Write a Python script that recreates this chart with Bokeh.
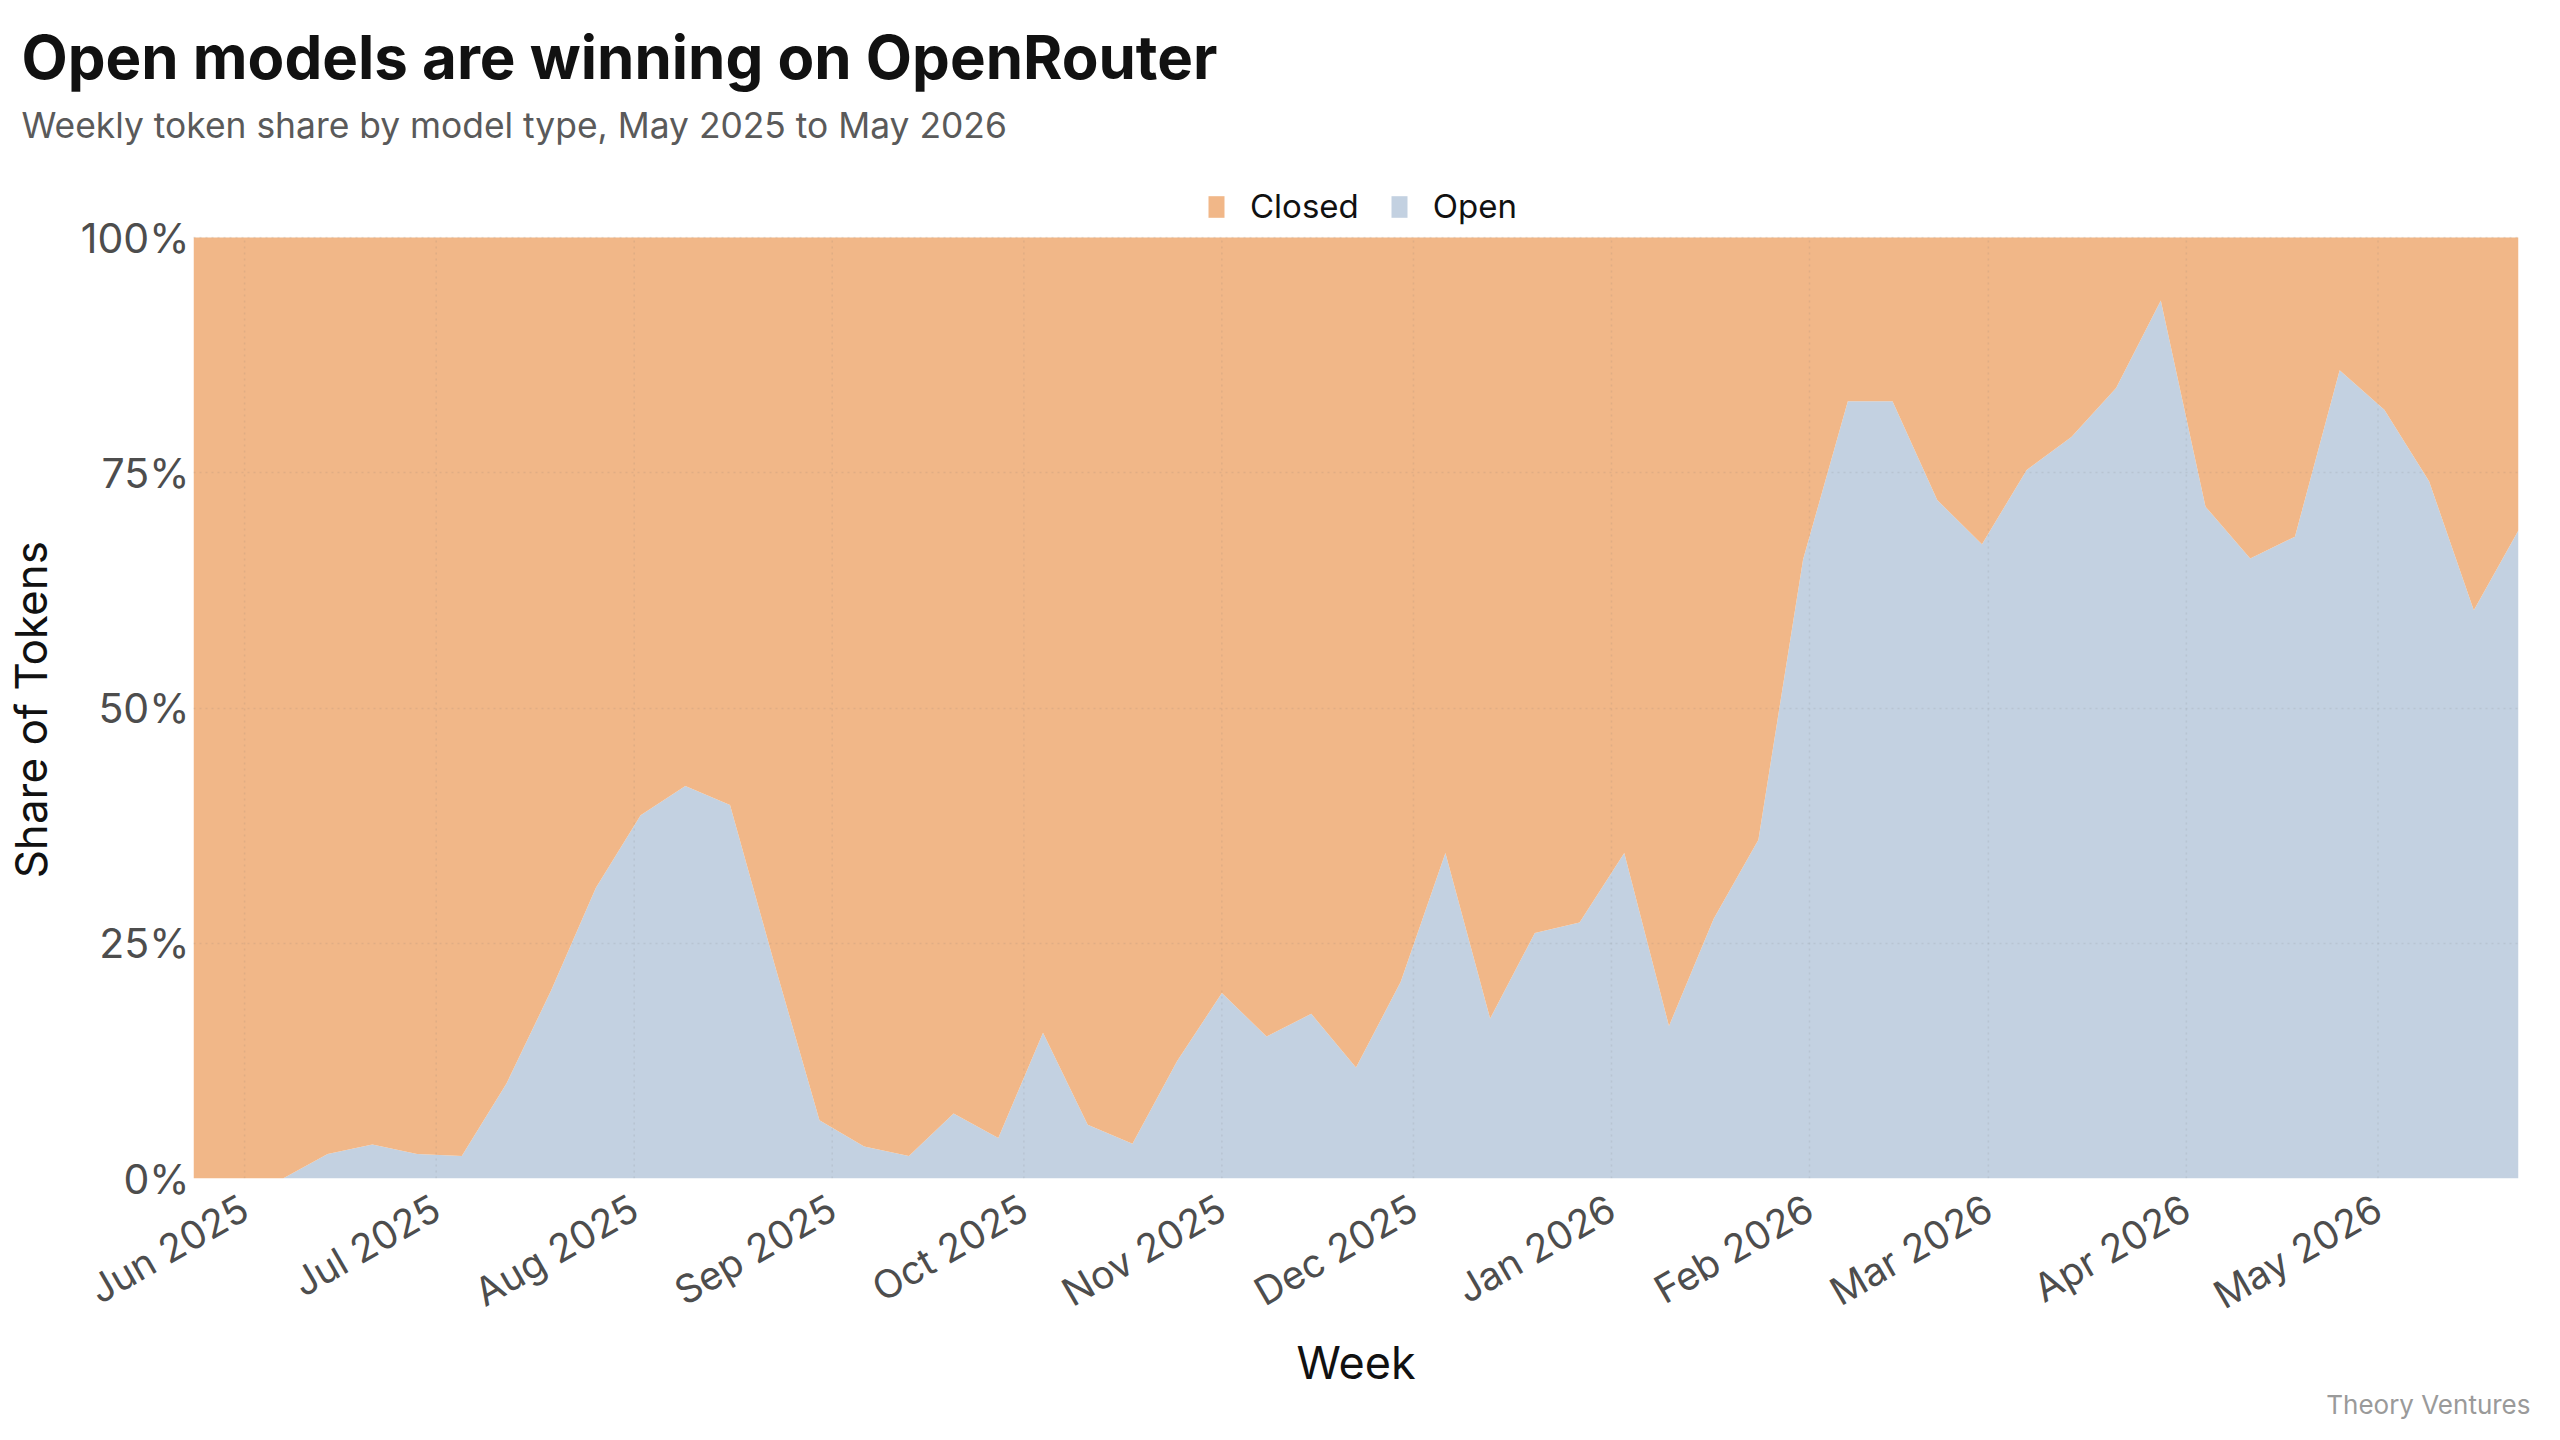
import math
import pandas as pd
from bokeh.plotting import figure
from bokeh.models import (ColumnDataSource, Range1d, FixedTicker, DatetimeTickFormatter,
                          PrintfTickFormatter, Legend, LegendItem, Title)
from bokeh.embed import file_html
from bokeh.resources import INLINE

# ---------------- data ----------------
week_start = "2025-05-24"
open_share = [0, 0, 0, 2.6, 3.6, 2.6, 2.4, 10.1, 20.0, 30.9, 38.6, 41.7, 39.7, 22.7,
              6.2, 3.4, 2.4, 6.9, 4.3, 15.5, 5.7, 3.7, 12.5, 19.7, 15.1, 17.5, 11.8,
              20.9, 34.6, 17.0, 26.1, 27.2, 34.6, 16.2, 27.6, 36.0, 65.8, 82.6, 82.6,
              72.1, 67.4, 75.3, 78.8, 84.0, 93.3, 71.4, 65.9, 68.2, 85.9, 81.7, 74.1,
              60.4, 68.9]
closed_share = [round(100 - v, 1) for v in open_share]
weeks = pd.date_range(week_start, periods=len(open_share), freq="7D")

month_ticks = ["2025-06-01", "2025-07-01", "2025-08-01", "2025-09-01", "2025-10-01",
               "2025-11-01", "2025-12-01", "2026-01-01", "2026-02-01", "2026-03-01",
               "2026-04-01", "2026-05-01"]
y_ticks = [0, 25, 50, 75, 100]

title_text = "Open models are winning on OpenRouter"
subtitle_text = "Weekly token share by model type, May 2025 to May 2026"
credit_text = "Theory Ventures"
x_label = "Week"
y_label = "Share of Tokens"

ORANGE = "#F1B788"
BLUE = "#C3D1E1"
FONT = "Inter"

src = ColumnDataSource(dict(week=weeks, open=open_share, closed=closed_share))
tick_dates = pd.to_datetime(month_ticks)
grid_src = ColumnDataSource(dict(t=tick_dates, lo=[0] * len(tick_dates),
                                 hi=[100] * len(tick_dates)))

FW = 2325
PLOT_H = 941          # height of the 0..100 band
HEAD = 54             # extra room above 100% for the legend
FH = PLOT_H + HEAD
y_top = 100 + HEAD * 100 / PLOT_H

p = figure(frame_width=FW, frame_height=FH, x_axis_type="datetime", output_backend="svg",
           toolbar_location=None, title=None,
           x_range=Range1d(weeks[0], weeks[-1]), y_range=Range1d(0, y_top),
           min_border_left=191, min_border_right=28, min_border_top=0,
           min_border_bottom=0)
p.outline_line_color = None
p.background_fill_color = "white"
p.border_fill_color = "white"
p.xgrid.visible = False

rs = p.varea_stack(["open", "closed"], x="week", source=src, color=[BLUE, ORANGE])
r_open, r_closed = rs

# vertical month grid lines, only across the 0-100% band
p.segment(x0="t", y0="lo", x1="t", y1="hi", source=grid_src, line_color="#6f6f6f",
          line_alpha=0.12, line_dash="dotted", line_width=1.5)

# axes
tick_ms = [pd.Timestamp(t).value // 10**6 for t in month_ticks]
p.xaxis.ticker = FixedTicker(ticks=tick_ms)
fmt = "%b %Y"
p.xaxis.formatter = DatetimeTickFormatter(days=fmt, months=fmt, years=fmt, hours=fmt)
p.xaxis.major_label_orientation = math.pi / 6
yt = FixedTicker(ticks=y_ticks)
p.yaxis.ticker = yt
p.ygrid.ticker = yt
p.yaxis.formatter = PrintfTickFormatter(format="%d%%")
p.yaxis.bounds = (0, 100)

p.xaxis.axis_label = x_label
# trailing no-break spaces keep the label centred on the 0-100% band
p.yaxis.axis_label = y_label + "\u00a0" * 4 + "\u2009"
for ax in (p.xaxis[0], p.yaxis[0]):
    ax.axis_line_color = None
    ax.major_tick_line_color = None
    ax.minor_tick_line_color = None
    ax.major_label_text_font = FONT
    ax.major_label_text_color = "#4d4d4d"
    ax.axis_label_text_font = FONT
    ax.axis_label_text_font_style = "normal"
    ax.axis_label_text_font_size = "44px"
    ax.axis_label_text_color = "#111111"
p.xaxis.axis_label_text_font_size = "45px"
p.xaxis.major_label_text_font_size = "39px"
p.yaxis.major_label_text_font_size = "41px"
p.yaxis.major_label_standoff = -2
p.yaxis.axis_label_standoff = 20
p.xaxis.major_label_standoff = 20
p.xaxis.axis_label_standoff = -6

g = p.ygrid[0]
g.grid_line_color = "#6f6f6f"
g.grid_line_alpha = 0.12
g.grid_line_dash = "dotted"
g.grid_line_width = 1.5
g.level = "annotation"

# legend in the head room above 100%
legend = Legend(items=[LegendItem(label="Closed", renderers=[r_closed]),
                       LegendItem(label="Open", renderers=[r_open])],
                orientation="horizontal", location=(1013, PLOT_H + 11),
                glyph_width=20, glyph_height=27, label_standoff=24, spacing=30,
                padding=0, margin=0, border_line_color=None, background_fill_alpha=0,
                label_text_font=FONT, label_text_font_size="33px",
                label_text_color="#111111")
p.add_layout(legend, "center")

t_main = Title(text=title_text, align="left", offset=-172, standoff=0,
               text_font=FONT, text_font_style="bold", text_font_size="60px",
               text_color="#111111")
t_sub = Title(text=subtitle_text, align="left", offset=-172, standoff=18.5,
              text_font=FONT, text_font_style="normal", text_font_size="35.4px",
              text_color="#5a5a5a")
spacer_top = Title(text=" ", text_font_size="2px", standoff=13.8)
spacer_mid = Title(text=" ", text_font_size="2px", standoff=22.8)
t_credit = Title(text=credit_text, align="right", offset=-12, standoff=-13,
                 text_font=FONT, text_font_style="normal", text_font_size="26px",
                 text_color="#9a9a9a")
spacer_bottom = Title(text=" ", text_font_size="2px", standoff=12)

p.above = [spacer_mid, t_sub, t_main, spacer_top]
p.add_layout(t_credit, "below")
p.add_layout(spacer_bottom, "below")

open("out.html", "w").write(file_html(p, INLINE))
